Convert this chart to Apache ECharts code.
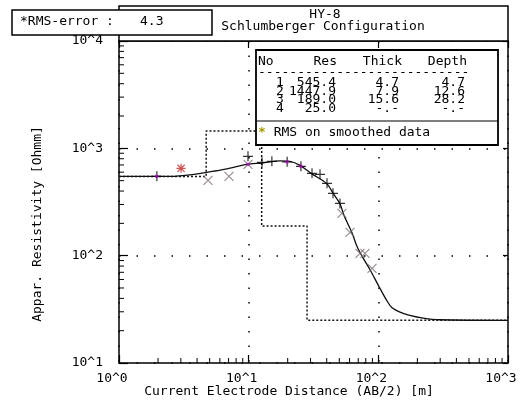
<!DOCTYPE html>
<html>
<head>
<meta charset="utf-8">
<script src="https://cdn.jsdelivr.net/npm/echarts@6/dist/echarts.min.js"></script>
<style>
  html, body { margin: 0; padding: 0; background: #fff; }
  #chart { width: 524px; height: 405px; }
</style>
</head>
<body>
<div id="chart"></div>
<script>
// layered model
const layerNo = [1, 2, 3, 4];
const layerRes = [545.4, 1447.9, 189.0, 25.0];
const layerThick = [4.7, 7.9, 15.6, null];
const layerDepth = [4.7, 12.6, 28.2, null];
const rmsError = 4.3;

// model response curve
const curveAB = [1, 2.47, 3.66, 5.5, 7.18, 9.71, 12.7, 17.4, 20.8, 24.9, 30.6, 40.0, 45.0, 50.6, 54.5, 62.3, 68.1, 74.5, 86.3, 100, 116, 127, 147, 175, 222, 299, 1000];
const curveRho = [548, 548, 569, 615, 655, 710, 730, 765, 757, 694, 581, 469, 378, 305, 235, 166, 124, 100, 74, 52.9, 38.3, 32.9, 29.8, 27.8, 26.2, 25.3, 25.0];

// field data
const plusAB = [1.96, 9.88, 12.67, 15.1, 19.8, 25.3, 30.8, 35.5, 40.2, 44.7, 50.6];
const plusRho = [548, 842, 741, 757, 748, 680, 585, 572, 472, 381, 307];
const crossAB = [4.86, 7.05, 9.88, 52.4, 60.4, 72.2, 78.9, 89.4];
const crossRho = [503, 548, 710, 248, 165, 105, 105, 76.1];
const starAB = [3.01];
const starRho = [651];
const smoothAB = [1.96, 9.9, 19.8, 25.3];
const smoothRho = [548, 710, 748, 680];

// axis ticks
const minorX = [2, 3, 4, 5, 6, 7, 8, 9, 20, 30, 40, 50, 60, 70, 80, 90, 200, 300, 400, 500, 600, 700, 800, 900];
const minorY = [20, 30, 40, 50, 60, 70, 80, 90, 200, 300, 400, 500, 600, 700, 800, 900, 2000, 3000, 4000, 5000, 6000, 7000, 8000, 9000];

const FONT = '"DejaVu Sans Mono", monospace';
const zip = (a, b) => a.map((v, i) => [v, b[i]]);

// dotted step line of the model
let steps = [[1, layerRes[0]]];
for (let i = 0; i < layerRes.length - 1; i++) {
  steps.push([layerDepth[i], layerRes[i]]);
  steps.push([layerDepth[i], layerRes[i + 1]]);
}
steps.push([1000, layerRes[layerRes.length - 1]]);

const fmt = v => (v == null ? '-.-' : v.toFixed(1));
const lg = v => '10^' + Math.round(Math.log10(v));

function txt(text, x, y, align, extra) {
  return Object.assign({
    type: 'text', x: x, y: y, z: 20,
    style: {text: text, font: '13px ' + FONT, fill: '#000', align: align || 'left', verticalAlign: 'middle'}
  }, extra || {});
}

let graphics = [
  // title frame
  {type: 'rect', z: 10, shape: {x: 119, y: 6, width: 389, height: 35}, style: {fill: '#fff', stroke: '#000', lineWidth: 1.5}},
  txt('HY-8', 325, 15, 'center'),
  txt('Schlumberger Configuration', 323, 27, 'center'),
  // RMS box
  {type: 'rect', z: 15, shape: {x: 12, y: 10, width: 200, height: 25}, style: {fill: '#fff', stroke: '#000', lineWidth: 1.5}},
  txt('*RMS-error :', 20, 22, 'left'),
  txt(rmsError.toFixed(1), 140, 22, 'left'),
  // axis titles
  txt('Current Electrode Distance (AB/2) [m]', 289, 392, 'center'),
  txt('Appar. Resistivity [Ohmm]', 38, 224, 'center', {rotation: Math.PI / 2}),
  // table box
  {type: 'rect', z: 15, shape: {x: 256, y: 50, width: 242, height: 95}, style: {fill: '#fff', stroke: '#000', lineWidth: 1.8}},
  {type: 'line', z: 16, shape: {x1: 256, y1: 121, x2: 498, y2: 121}, style: {stroke: '#000', lineWidth: 1.2}},
  txt('No', 258, 62, 'left'),
  txt('Res', 337, 62, 'right'),
  txt('Thick', 402, 62, 'right'),
  txt('Depth', 467, 62, 'right'),
  txt('-'.repeat(27), 258, 73, 'left'),
  {
    type: 'text', x: 258, y: 133, z: 20,
    style: {
      text: '{a|*} RMS on smoothed data', font: '13px ' + FONT, fill: '#000', verticalAlign: 'middle',
      rich: {a: {fill: '#a89a00', font: 'bold 13px ' + FONT}}
    }
  }
];
layerNo.forEach((n, i) => {
  const y = 83 + i * 8.5;
  graphics.push(txt(String(n), 276, y, 'left'));
  graphics.push(txt(fmt(layerRes[i]), 336, y, 'right'));
  graphics.push(txt(fmt(layerThick[i]), 399, y, 'right'));
  graphics.push(txt(fmt(layerDepth[i]), 465, y, 'right'));
});

function tickSeries(vals, horiz) {
  return {
    type: 'custom', silent: true, clip: false, z: 5,
    data: vals.map(v => (horiz ? [1, v] : [v, 10])),
    renderItem: function (params, api) {
      const p = api.coord([api.value(0), api.value(1)]);
      const shape = horiz
        ? {x1: p[0], y1: p[1], x2: p[0] + 5, y2: p[1]}
        : {x1: p[0], y1: p[1], x2: p[0], y2: p[1] - 5};
      return {type: 'line', shape: shape, style: {stroke: '#000', lineWidth: 1}};
    }
  };
}

const axisLine = {show: true, lineStyle: {color: '#000', width: 1.5}};

const chart = echarts.init(document.getElementById('chart'));
chart.setOption({
  backgroundColor: '#fff',
  animation: false,
  grid: {left: 119, top: 41, width: 389, height: 322},
  graphic: graphics,
  xAxis: [
    {
      type: 'log', logBase: 10, min: 1, max: 1000, position: 'bottom',
      axisLine: axisLine,
      axisTick: {inside: true, length: 8, lineStyle: {color: '#000', width: 1.2}},
      axisLabel: {formatter: lg, fontFamily: FONT, fontSize: 13, color: '#000', margin: 9, padding: [0, 14, 0, 0], showMinLabel: true, showMaxLabel: true},
      splitLine: {show: true, lineStyle: {color: '#000', width: 1.5, type: [1.5, 13]}}
    },
    {
      type: 'log', logBase: 10, min: 1, max: 1000, position: 'top',
      axisLine: axisLine,
      axisTick: {inside: true, length: 7, lineStyle: {color: '#000', width: 1.2}},
      axisLabel: {show: false}, splitLine: {show: false}
    }
  ],
  yAxis: [
    {
      type: 'log', logBase: 10, min: 10, max: 10000, position: 'left',
      axisLine: axisLine,
      axisTick: {inside: true, length: 9, lineStyle: {color: '#000', width: 1.2}},
      axisLabel: {formatter: lg, fontFamily: FONT, fontSize: 13, color: '#000', margin: 16, showMinLabel: true, showMaxLabel: true},
      splitLine: {show: true, lineStyle: {color: '#000', width: 1.5, type: [1.5, 16]}}
    },
    {
      type: 'log', logBase: 10, min: 10, max: 10000, position: 'right',
      axisLine: axisLine,
      axisTick: {inside: true, length: 5, lineStyle: {color: '#000', width: 1.2}},
      axisLabel: {show: false}, splitLine: {show: false}
    }
  ],
  series: [
    tickSeries(minorY, true),
    tickSeries(minorX, false),
    {
      name: 'Model', type: 'line', data: steps, symbol: 'none', z: 3,
      lineStyle: {color: '#111', width: 1.5, type: [2, 2]}
    },
    {
      name: 'Curve', type: 'line', data: zip(curveAB, curveRho), symbol: 'none', smooth: 0.3, z: 4,
      lineStyle: {color: '#111', width: 1.3}
    },
    {
      name: 'Plus', type: 'scatter', data: zip(plusAB, plusRho), z: 6,
      symbol: 'path://M0,-5L0,5M-5,0L5,0', symbolSize: 10,
      itemStyle: {color: 'rgba(0,0,0,0)', borderColor: '#000', borderWidth: 1.2}
    },
    {
      name: 'Cross', type: 'scatter', data: zip(crossAB, crossRho), z: 6,
      symbol: 'path://M-5,-5L5,5M-5,5L5,-5', symbolSize: 9,
      itemStyle: {color: 'rgba(0,0,0,0)', borderColor: '#7a6e6e', borderWidth: 1.1}
    },
    {
      name: 'Star', type: 'scatter', data: zip(starAB, starRho), z: 6,
      symbol: 'path://M0,-5L0,5M-5,0L5,0M-4,-4L4,4M-4,4L4,-4', symbolSize: 9,
      itemStyle: {color: 'rgba(0,0,0,0)', borderColor: '#c02828', borderWidth: 1.2}
    },
    {
      name: 'Smoothed', type: 'scatter', data: zip(smoothAB, smoothRho), z: 7,
      symbol: 'rect', symbolSize: 3,
      itemStyle: {color: '#b000c0'}
    }
  ]
});
</script>
</body>
</html>
